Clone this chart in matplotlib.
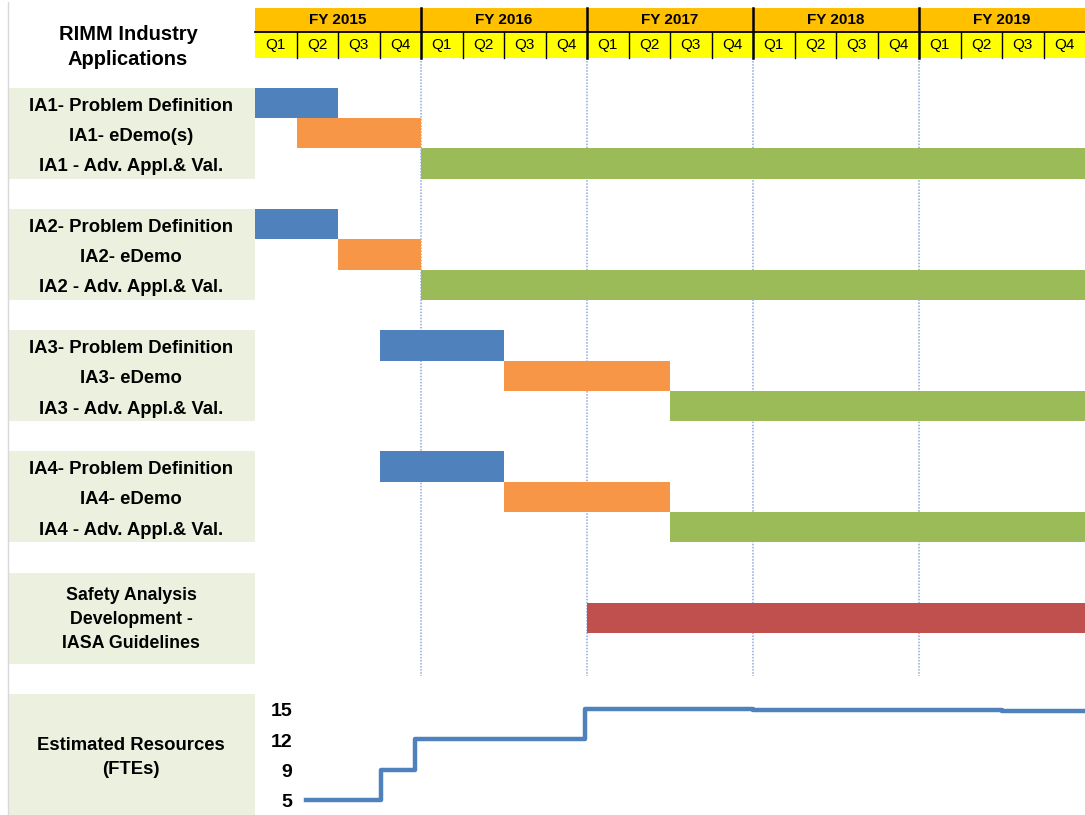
import numpy as np
import matplotlib.pyplot as plt
from matplotlib.patches import Rectangle

plt.rcParams['font.family'] = ['Liberation Sans', 'DejaVu Sans']

# ---------------- data ----------------
years = ['FY 2015', 'FY 2016', 'FY 2017', 'FY 2018', 'FY 2019']
quarters = ['Q1', 'Q2', 'Q3', 'Q4']

# task rows: label, row index, start quarter, end quarter, colour key
task_labels = ['IA1- Problem Definition', 'IA1- eDemo(s)', 'IA1 - Adv. Appl.& Val.',
               'IA2- Problem Definition', 'IA2- eDemo', 'IA2 - Adv. Appl.& Val.',
               'IA3- Problem Definition', 'IA3- eDemo', 'IA3 - Adv. Appl.& Val.',
               'IA4- Problem Definition', 'IA4- eDemo', 'IA4 - Adv. Appl.& Val.']
task_rows = [0, 1, 2, 4, 5, 6, 8, 9, 10, 12, 13, 14]
task_start = [0, 1, 4, 0, 2, 4, 3, 6, 10, 3, 6, 10]
task_end = [2, 4, 20, 2, 4, 20, 6, 10, 20, 6, 10, 20]
task_kind = ['def', 'demo', 'adv'] * 4

safety_label = 'Safety Analysis\nDevelopment -\nIASA Guidelines'
safety_start = 8
safety_end = 20

fte_ticks = [5, 9, 12, 15]
fte_q = [1.23, 3.03, 3.86, 7.95, 10, 12, 14, 16, 18, 20]
fte_val = [5, 9, 12, 15, 14.97, 14.93, 14.9, 14.86, 14.83, 14.8]

colors = {'def': '#4F81BD', 'demo': '#F79646', 'adv': '#9BBB59', 'safety': '#C0504D'}
label_bg = '#EBF1DE'

# ---------------- figure ----------------
fig = plt.figure(figsize=(10.85, 8.15), dpi=100)
ax = fig.add_axes([0, 0, 1, 1])
qw = 41.5                     # pixels per quarter
x_left = -255 / qw
ax.set_xlim(x_left, 20)
ax.set_ylim(24.0, -2.9)
ax.axis('off')

lab_x0 = x_left + 8 / qw
lab_xc = x_left + 131 / qw

# header rows
fy_top, fy_bot, q_bot = -2.64, -1.85, -0.99
for i, y in enumerate(years):
    ax.add_patch(Rectangle((i * 4, fy_top), 4, fy_bot - fy_top, color='#FFC000', lw=0))
    ax.text(i * 4 + 2, (fy_top + fy_bot) / 2, y, ha='center', va='center',
            fontsize=11, fontweight='bold', color='black')
    for j, q in enumerate(quarters):
        ax.add_patch(Rectangle((i * 4 + j, fy_bot), 1, q_bot - fy_bot, color='#FFFF00', lw=0))
        ax.text(i * 4 + j + 0.5, (fy_bot + q_bot) / 2, q, ha='center', va='center',
                fontsize=11, color='black')
ax.plot([0, 20], [fy_bot, fy_bot], color='black', lw=1.3)
for k in range(1, 20):
    if k % 4 == 0:
        ax.plot([k, k], [fy_top, q_bot], color='black', lw=1.8)
    else:
        ax.plot([k, k], [fy_bot, q_bot], color='black', lw=1.0)

# year dotted lines
for k in [4, 8, 12, 16]:
    ax.plot([k, k], [q_bot, 19.4], color='#8EA9DB', lw=1.1, ls=(0, (1, 1)), zorder=1)

# title
ax.text(lab_xc - 0.07, -1.35, 'RIMM Industry\nApplications', ha='center',
        va='center', fontsize=14.5, fontweight='bold', color='black', linespacing=1.45)

# label backgrounds
for top in [0, 4, 8, 12]:
    ax.add_patch(Rectangle((lab_x0, top), -lab_x0, 3, color=label_bg, lw=0))
ax.add_patch(Rectangle((lab_x0, 16), -lab_x0, 3, color=label_bg, lw=0))
ax.add_patch(Rectangle((lab_x0, 20), -lab_x0, 4, color=label_bg, lw=0))
ax.plot([lab_x0, lab_x0], [-2.85, 24], color='#d9d9d9', lw=1.0)

# tasks
for lab, r, s, e, k in zip(task_labels, task_rows, task_start, task_end, task_kind):
    ax.barh(r + 0.5, e - s, left=s, height=1.0, color=colors[k], zorder=3)
    ax.text(lab_xc, r + 0.6, lab, ha='center', va='center', fontsize=13.3,
            fontweight='bold', color='black')

ax.barh(17.5, safety_end - safety_start, left=safety_start, height=0.97,
        color=colors['safety'], zorder=3)
ax.text(lab_xc, 17.55, safety_label, ha='center', va='center', fontsize=12.8,
        fontweight='bold', color='black', linespacing=1.55)

# resources
ax.text(lab_xc, 22.1, 'Estimated Resources\n(FTEs)', ha='center', va='center',
        fontsize=13.3, fontweight='bold', color='black', linespacing=1.55)
tick_rows = [23.5, 22.5, 21.5, 20.5]
for v, r in zip(fte_ticks, tick_rows):
    ax.text(x_left + 292 / qw, r + 0.1, str(v), ha='right', va='center', fontsize=14,
            fontweight='bold', color='black')
fte_rows = np.interp(fte_val, fte_ticks, tick_rows)
ax.plot(fte_q, fte_rows, drawstyle='steps-post', color='#4F81BD', lw=3.2, zorder=4)

fig.savefig('out.png', dpi=100)
